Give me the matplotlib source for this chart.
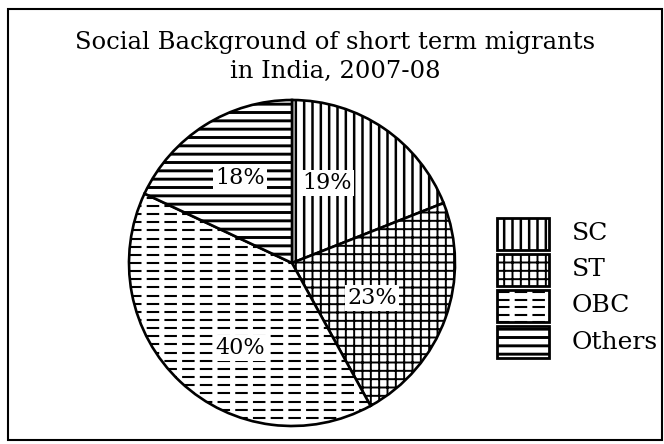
import matplotlib
matplotlib.use("Agg")
import matplotlib.pyplot as plt
from matplotlib.patches import Rectangle
from matplotlib.lines import Line2D

# Data
categories = ["SC", "ST", "OBC", "Others"]
shares = [19, 23, 40, 18]

# hatch style per slice (OBC gets dashed lines drawn by hand)
hatches = ["||", "++", None, "--"]
hatch_lw = [1.8, 1.4, 1.4, 2.1]

plt.rcParams["font.family"] = ["DejaVu Serif"]

W, H = 664, 444
fig = plt.figure(figsize=(W / 100, H / 100), dpi=100)


def fx(px):
    return px / W


def fy(py):
    return 1 - py / H


def set_hlw(p, lw):
    if hasattr(p, "set_hatch_linewidth"):
        p.set_hatch_linewidth(lw)
    else:
        plt.rcParams["hatch.linewidth"] = lw


def dashed_fill(ax, clip, y0, y1, step, x0, x1, transform):
    y = y0
    while y <= y1:
        ln = Line2D([x0, x1], [y, y], color="black", lw=1.5,
                    dashes=(6, 2.5), transform=transform)
        ln.set_clip_path(clip)
        ax.add_artist(ln)
        y += step


# frame around the whole chart
fig.patches.append(Rectangle((0.012, 0.01), 0.985, 0.97, transform=fig.transFigure,
                             fill=False, lw=1.5, ec="black"))

fig.text(0.505, 0.905, "Social Background of short term migrants",
         ha="center", va="center", fontsize=17.5)
fig.text(0.505, 0.838, "in India, 2007-08", ha="center", va="center", fontsize=17.5)

# pie: centre ~ (292, 263) px, radius ~ 163 px
ax = fig.add_axes([fx(292 - 163), fy(263 + 163), fx(326), 326 / H])
wedges, texts = ax.pie(
    shares, startangle=90, counterclock=False, colors=["white"] * 4,
    wedgeprops=dict(edgecolor="black", linewidth=1.9))
for w, h, lw in zip(wedges, hatches, hatch_lw):
    if h:
        w.set_hatch(h)
        set_hlw(w, lw)
dashed_fill(ax, wedges[2], -1.0, 1.0, 0.05, -1.0, 1.0, ax.transData)
ax.set_xlim(-1, 1)
ax.set_ylim(-1, 1)

# percentage labels
label_xy = [(0.215, 0.49), (0.49, -0.215), (-0.32, -0.52), (-0.32, 0.52)]
for (x, y), s in zip(label_xy, shares):
    ax.text(x, y, f"{s}%", ha="center", va="center", fontsize=16, zorder=5,
            bbox=dict(facecolor="white", edgecolor="none", pad=1.5))

# legend drawn by hand
for i, (cat, h, lw) in enumerate(zip(categories, hatches, hatch_lw)):
    cy = 234 + i * 36
    r = Rectangle((fx(497), fy(cy + 16)), fx(52), 32 / H, transform=fig.transFigure,
                  facecolor="white", edgecolor="black", lw=2.0)
    if h:
        r.set_hatch(h)
        set_hlw(r, lw)
    fig.patches.append(r)
    if h is None:
        dashed_fill(fig, r, fy(cy + 16), fy(cy - 16), 7.5 / H, fx(497), fx(549),
                    fig.transFigure)
    fig.text(fx(572), fy(cy), cat, ha="left", va="center", fontsize=18)

fig.savefig("out.png", dpi=100)
